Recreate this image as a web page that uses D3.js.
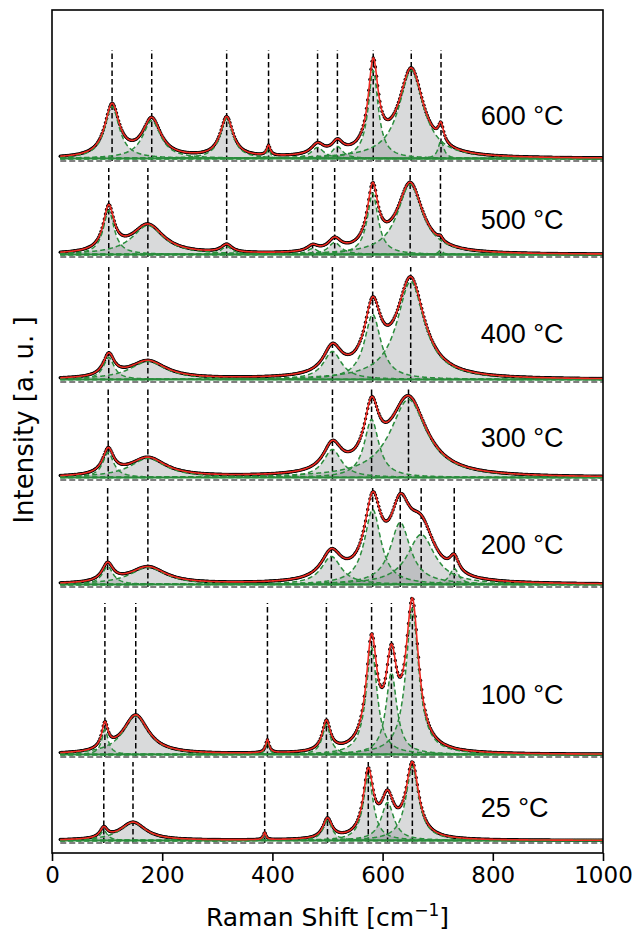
<!DOCTYPE html>
<html>
<head>
<meta charset="utf-8">
<script src="https://cdn.jsdelivr.net/npm/d3@7/dist/d3.min.js"></script>
<style>
html,body{margin:0;padding:0;background:#fff;}
svg{display:block;}
</style>
</head>
<body>
<svg id="chart" width="636" height="934"></svg>
<script>
// ---------- data ----------
const temps = ["600 °C", "500 °C", "400 °C", "300 °C", "200 °C", "100 °C", "25 °C"];
const offsets = [692, 596, 471, 373, 266, 96, 10];          // vertical stacking offsets (a.u.)
const lineTops = [803, 685, 586, 465, 366, 250, 91];        // top of the peak marker lines (a.u.)
const labelLevels = [36, 28, 39, 33, 33, 53, 26];           // label height above each offset (a.u.)
const labelShift = 778;                                      // label x position (cm-1)
const background = 2.5;                                      // constant fit background (a.u.)
const xRange = [15, 1000];                                   // measured range (cm-1)

const peakCenters = [
  [109, 181, 317, 393, 482, 518, 583, 652, 706],
  [103, 174, 317, 473, 513, 582, 650, 705],
  [103, 174, 509, 582, 651],
  [102, 174, 509, 580, 647],
  [101, 174, 507, 582, 632, 670, 730],
  [96, 152, 391, 498, 580, 616, 654],
  [94, 147, 386, 500, 574, 609, 654]
];
const peakHeights = [
  [52, 38, 40, 10, 11, 12, 88, 88, 18],
  [44, 29, 8, 6, 12, 61, 70, 4],
  [22, 18, 28, 65, 98],
  [25, 19, 28, 58, 78],
  [18, 17, 28, 75, 62, 50, 16],
  [25, 39, 13, 30, 107, 82, 146],
  [10, 18, 7, 20, 65, 38, 74]
];
const peakWidths = [   // half width at half maximum (cm-1)
  [16, 20, 14, 4, 14, 12, 11, 27, 6],
  [12, 35, 12, 12, 14, 12, 28, 5],
  [12, 40, 20, 18, 30],
  [12, 40, 20, 16, 40],
  [12, 40, 22, 18, 22, 30, 10],
  [7, 28, 4, 9, 12, 12, 14],
  [8, 28, 3, 10, 11, 14, 14]
];
const xTicks = [0, 200, 400, 600, 800, 1000];

// ---------- layout ----------
const svg = d3.select("#chart");
const L = 52, R = 603, T = 10, B = 853;
const x = d3.scaleLinear().domain([0, 1000]).range([L, R]);
const y = d3.scaleLinear().domain([0, B - T]).range([B, T]);

const green = "#2a8c3c", red = "#ee2a22";

svg.append("clipPath").attr("id", "clip")
  .append("rect").attr("x", L).attr("y", T).attr("width", R - L).attr("height", B - T);
const plot = svg.append("g").attr("clip-path", "url(#clip)");

const lor = (v, c, a, g) => a * g * g / ((v - c) * (v - c) + g * g);
const grid = d3.range(xRange[0], xRange[1] + 0.001, 1);
const dotGrid = d3.range(xRange[0], xRange[1] + 0.001, 2);

temps.forEach((t, i) => {
  const off = offsets[i];
  const cs = peakCenters[i], hs = peakHeights[i], ws = peakWidths[i];
  const g = plot.append("g");
  const total = v => off + background + d3.sum(cs, (c, k) => lor(v, c, hs[k], ws[k]));

  // component fills
  cs.forEach((c, k) => {
    const area = d3.area()
      .x(v => x(v))
      .y0(y(off + background))
      .y1(v => y(off + background + lor(v, c, hs[k], ws[k])));
    g.append("path").datum(grid).attr("d", area)
      .attr("fill", "#808488").attr("fill-opacity", 0.3).attr("stroke", "none");
  });

  // peak marker lines
  g.selectAll("line.peak").data(cs).join("line").attr("class", "peak")
    .attr("x1", c => x(c)).attr("x2", c => x(c))
    .attr("y1", y(off)).attr("y2", y(lineTops[i]))
    .attr("stroke", "#000").attr("stroke-width", 1.5).attr("stroke-dasharray", "5.5,3");

  // gray dashed zero line
  g.append("line")
    .attr("x1", x(xRange[0])).attr("x2", x(xRange[1]))
    .attr("y1", y(off)).attr("y2", y(off))
    .attr("stroke", "#808080").attr("stroke-width", 1.8).attr("stroke-dasharray", "6,3");

  // data points
  g.selectAll("circle").data(dotGrid).join("circle")
    .attr("cx", v => x(v)).attr("cy", v => y(total(v))).attr("r", 1.7).attr("fill", "#000");

  // background line
  g.append("line")
    .attr("x1", x(xRange[0])).attr("x2", x(xRange[1]))
    .attr("y1", y(off + background)).attr("y2", y(off + background))
    .attr("stroke", green).attr("stroke-width", 1.8);

  // component curves
  cs.forEach((c, k) => {
    const line = d3.line().x(v => x(v)).y(v => y(off + background + lor(v, c, hs[k], ws[k])));
    g.append("path").datum(grid).attr("d", line)
      .attr("fill", "none").attr("stroke", green).attr("stroke-width", 1.5)
      .attr("stroke-dasharray", "5,3");
  });

  // total fit
  g.append("path").datum(grid)
    .attr("d", d3.line().x(v => x(v)).y(v => y(total(v))))
    .attr("fill", "none").attr("stroke", red).attr("stroke-width", 1.6);

  // label
  svg.append("text")
    .attr("x", x(labelShift)).attr("y", y(off + labelLevels[i]))
    .attr("font-family", "'Liberation Sans', Arial, sans-serif")
    .attr("font-size", 27).attr("fill", "#000").text(t);
});

// frame
svg.append("rect").attr("x", L).attr("y", T).attr("width", R - L).attr("height", B - T)
  .attr("fill", "none").attr("stroke", "#000").attr("stroke-width", 1.6);

// x axis
const xAxis = d3.axisBottom(x).tickValues(xTicks).tickSize(8).tickPadding(6).tickFormat(d3.format("d"));
const ax = svg.append("g").attr("transform", `translate(0,${B})`).call(xAxis);
ax.select(".domain").remove();
ax.selectAll(".tick line").attr("stroke", "#000").attr("stroke-width", 1.6);
ax.selectAll(".tick text").attr("font-family", "'DejaVu Sans', sans-serif").attr("font-size", 23).attr("fill", "#000");

// axis labels
const xl = svg.append("text").attr("x", (L + R) / 2).attr("y", 926).attr("text-anchor", "middle")
  .attr("font-family", "'DejaVu Sans', sans-serif").attr("font-size", 25).attr("fill", "#000");
xl.append("tspan").text("Raman Shift [cm");
xl.append("tspan").attr("dy", -10).attr("font-size", 17).text("−1");
xl.append("tspan").attr("dy", 10).text("]");

svg.append("text").attr("transform", `translate(33,420) rotate(-90)`)
  .attr("text-anchor", "middle")
  .attr("font-family", "'DejaVu Sans', sans-serif").attr("font-size", 26).attr("fill", "#000")
  .text("Intensity [a. u. ]");
</script>
</body>
</html>
